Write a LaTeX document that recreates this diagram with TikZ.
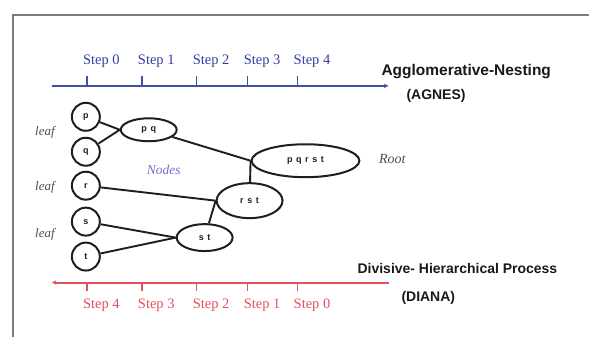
\documentclass[tikz,border=0pt]{standalone}
\usepackage{fontspec}
\setmainfont{Liberation Serif}
\setsansfont{Liberation Sans}
\newfontfamily\clusterfont[LetterSpace=40]{Liberation Sans}
\usetikzlibrary{shapes.geometric,arrows.meta}

\definecolor{aggblue}{RGB}{64,80,162}
\definecolor{steplblue}{RGB}{52,62,160}
\definecolor{divred}{RGB}{228,80,92}
\definecolor{nodeblue}{RGB}{112,112,205}
\definecolor{framegray}{RGB}{125,125,125}
\definecolor{inkgray}{RGB}{30,30,30}
\definecolor{notegray}{RGB}{80,80,80}

\begin{document}
\begin{tikzpicture}[x=1pt,y=-1pt,
  leafnode/.style={circle,draw=inkgray,line width=2pt,minimum size=28pt,
    inner sep=0pt,text=inkgray,font=\clusterfont\bfseries\fontsize{9}{10}\selectfont},
  clusternode/.style={ellipse,draw=inkgray,line width=2pt,inner sep=0pt,
    text=inkgray,font=\clusterfont\bfseries\fontsize{9}{10}\selectfont},
  link/.style={draw=inkgray,line width=1.9pt},
  bluerule/.style={draw=aggblue,line width=2pt},
  redrule/.style={draw=divred,line width=2pt},
  bluestep/.style={anchor=base west,inner sep=0pt,text=steplblue,
    font=\fontsize{14.5}{16}\selectfont},
  redstep/.style={anchor=base west,inner sep=0pt,text=divred,
    font=\fontsize{14.5}{16}\selectfont},
  titletext/.style={anchor=base west,inner sep=0pt,text=black!90,
    font=\sffamily\bfseries\fontsize{14}{16}\selectfont},
  notetext/.style={inner sep=0pt,text=notegray,
    font=\itshape\fontsize{13}{14}\selectfont},
]
% canvas and frame
\fill[white] (0,0) rectangle (590,338);
\draw[framegray,line width=2pt] (13,338) -- (13,15) -- (590,15);

% agglomerative axis
\coordinate (agnesstart) at (52,86);
\coordinate (agnesend) at (389,86);
\draw[bluerule,-{Stealth[length=4.5pt,width=4.5pt]}] (agnesstart) -- (agnesend);
\foreach \x/\n in {87/0,142/1,197/2,248/3,298/4}{
  \draw[bluerule,line width=1.5pt] (\x,86) -- (\x,76);
  \node[bluestep] (agnesstep\n) at (\x-4,65) {Step \n};
}
\node[titletext,font=\sffamily\bfseries\fontsize{15.5}{16}\selectfont]
  (agnestitle) at (382,75.5) {Agglomerative-Nesting};
\node[titletext] (agnesabbr) at (407,100) {(AGNES)};

% divisive axis
\coordinate (dianastart) at (390,283);
\coordinate (dianaend) at (52,283);
\draw[redrule,-{Stealth[length=4.5pt,width=4.5pt]}] (dianastart) -- (dianaend);
\foreach \x/\n in {87/4,142/3,197/2,248/1,298/0}{
  \draw[redrule,line width=1.5pt] (\x,283) -- (\x,291);
  \node[redstep] (dianastep\n) at (\x-4,309) {Step \n};
}
\node[titletext] (dianatitle) at (358,274) {Divisive- Hierarchical Process};
\node[titletext] (dianaabbr) at (402,302) {(DIANA)};

% leaves
\node[leafnode] (p) at (86,117) {p};
\node[leafnode] (q) at (86,152) {q};
\node[leafnode] (r) at (86,186) {r};
\node[leafnode] (s) at (86,222) {s};
\node[leafnode] (t) at (86,257) {t};

% merged clusters
\node[clusternode,minimum width=56pt,minimum height=23pt] (pq) at (149,130) {pq};
\node[clusternode,minimum width=56pt,minimum height=27pt] (st) at (205,238) {st};
\node[clusternode,minimum width=66pt,minimum height=35pt] (rst) at (250,201) {rst};
\node[clusternode,minimum width=108pt,minimum height=33pt] (pqrst) at (306,161) {pqrst};

% links
\draw[link] (p) -- (pq.west);
\draw[link] (q) -- (pq.west);
\draw[link] (pq) -- (pqrst.west);
\draw[link] (rst) -- (pqrst.west);
\draw[link] (r) -- (rst.west);
\draw[link] (st) -- (rst.west);
\draw[link] (s) -- (st.west);
\draw[link] (t) -- (st.west);

% annotations
\node[notetext] (leafa) at (45,133) {leaf};
\node[notetext] (leafb) at (45,188) {leaf};
\node[notetext] (leafc) at (45,235) {leaf};
\node[notetext,text=nodeblue,font=\itshape\fontsize{13.5}{14}\selectfont] (nodesnote) at (164,170) {Nodes};
\node[notetext,font=\itshape\fontsize{14}{14}\selectfont] (rootnote) at (393,159) {Root};
\end{tikzpicture}
\end{document}
